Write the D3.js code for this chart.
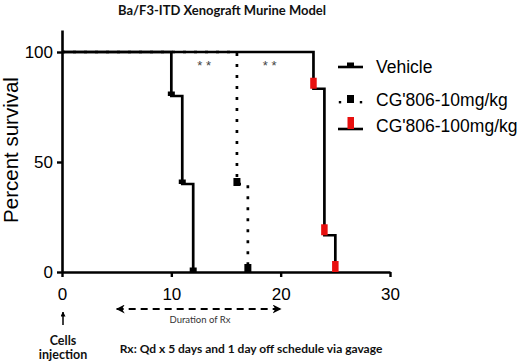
<!DOCTYPE html>
<html><head><meta charset="utf-8">
<script src="https://cdn.jsdelivr.net/npm/d3@7"></script>
<style>html,body{margin:0;padding:0;background:#fff;}svg{display:block;}</style>
</head><body>
<script>
// ---- data ----
const seriesNames = ["Vehicle", "CG'806-10mg/kg", "CG'806-100mg/kg"];
const vehicleDays = [0, 10, 11, 12];
const vehicleSurv = [100, 80, 40, 0];
const lowDoseDays = [0, 16, 17];
const lowDoseSurv = [100, 40, 0];
const highDoseDays = [0, 23, 24, 25];
const highDoseSurv = [100, 83.3, 16.7, 0];
const xTicks = [0, 10, 20, 30];
const yTicks = [0, 50, 100];
const sigDays = [13, 19];
const rxStart = 5, rxEnd = 20;

const W = 520, H = 364;
const svg = d3.select("body").append("svg").attr("width", W).attr("height", H);
const x = d3.scaleLinear().domain([0, 30]).range([62, 390]);
const y = d3.scaleLinear().domain([0, 110]).range([272, 30]);
const font = "'Liberation Sans', Arial, sans-serif";
const cal = "Lato, 'Open Sans', sans-serif";

// title
svg.append("text").attr("x", 222).attr("y", 15).attr("text-anchor", "middle")
  .attr("font-family", cal).attr("font-weight", "bold").attr("font-size", 13)
  .attr("fill", "#111").text("Ba/F3-ITD Xenograft Murine Model");

// axes
const yAxis = svg.append("g").attr("transform", `translate(${x(0)},0)`)
  .call(d3.axisLeft(y).tickValues(yTicks).tickSize(5).tickPadding(4).tickSizeOuter(0));
const xAxis = svg.append("g").attr("transform", `translate(0,${y(0)})`)
  .call(d3.axisBottom(x).tickValues(xTicks).tickSize(5).tickPadding(11).tickSizeOuter(0));
[xAxis, yAxis].forEach(g => {
  g.select(".domain").attr("stroke", "#000").attr("stroke-width", 2.6);
  g.selectAll(".tick line").attr("stroke", "#000").attr("stroke-width", 2.4);
  g.selectAll(".tick text").attr("font-family", font).attr("font-size", 17).attr("fill", "#000");
});

svg.append("text").attr("transform", `translate(18,150) rotate(-90)`)
  .attr("text-anchor", "middle").attr("font-family", font).attr("font-size", 20.5)
  .attr("fill", "#000").text("Percent survival");

// step curves
const line = d3.line().x(d => x(d[0])).y(d => y(d[1])).curve(d3.curveStepAfter);
function pts(days, surv) { return days.map((d, i) => [d, surv[i]]); }

const series = [
  {days: highDoseDays, surv: highDoseSurv, dash: null, color: "#e8100f", mw: 6.5, mh: 11},
  {days: vehicleDays, surv: vehicleSurv, dash: null, color: "#000", mw: 7, mh: 4.5},
  {days: lowDoseDays, surv: lowDoseSurv, dash: "3 8", color: "#000", mw: 7, mh: 8},
];
series.forEach(s => {
  svg.append("path").attr("d", line(pts(s.days, s.surv)))
    .attr("fill", "none").attr("stroke", "#000").attr("stroke-width", 2.7)
    .attr("stroke-dasharray", s.dash);
});
series.forEach(s => {
  const p = pts(s.days, s.surv).slice(1);
  svg.selectAll(null).data(p).enter().append("rect")
    .attr("x", d => x(d[0]) - s.mw / 2)
    .attr("y", d => y(d[1]) - s.mh + (s.mh > 7 && s.color === "#000" && d[1] > 0 ? 2 : 0))
    .attr("width", s.mw).attr("height", s.mh).attr("fill", s.color);
});

// significance
svg.selectAll(null).data(sigDays).enter().append("text")
  .attr("x", d => x(d)).attr("y", 70).attr("text-anchor", "middle")
  .attr("font-family", font).attr("font-size", 13).attr("fill", "#444").text("* *");

// legend
const legY = [67, 100, 126];
const lg = svg.append("g");
// Vehicle
lg.append("line").attr("x1", 338).attr("x2", 363).attr("y1", legY[0]).attr("y2", legY[0])
  .attr("stroke", "#000").attr("stroke-width", 2.6);
lg.append("rect").attr("x", 347).attr("y", legY[0] - 4.5).attr("width", 7).attr("height", 4.5).attr("fill", "#000");
// 10 mg
[340, 361].forEach(cx => lg.append("rect").attr("x", cx - 1.2).attr("y", legY[1] + 1).attr("width", 2.4).attr("height", 2.4).attr("fill", "#000"));
lg.append("rect").attr("x", 347).attr("y", legY[1] - 5).attr("width", 7).attr("height", 8).attr("fill", "#000");
// 100 mg
lg.append("line").attr("x1", 338).attr("x2", 363).attr("y1", legY[2] + 3).attr("y2", legY[2] + 3)
  .attr("stroke", "#000").attr("stroke-width", 2.6);
lg.append("rect").attr("x", 347.5).attr("y", legY[2] - 9).attr("width", 6.5).attr("height", 12).attr("fill", "#e8100f");
seriesNames.forEach((n, i) => {
  lg.append("text").attr("x", 376).attr("y", legY[i]).attr("dy", "0.35em")
    .attr("font-family", font).attr("font-size", 17.5).attr("fill", "#000").text(n);
});

// annotations below
const defs = svg.append("defs");
defs.append("marker").attr("id", "ah").attr("viewBox", "0 0 10 10").attr("refX", 9).attr("refY", 5)
  .attr("markerWidth", 5).attr("markerHeight", 5).attr("orient", "auto-start-reverse").attr("markerUnits", "userSpaceOnUse")
  .append("path").attr("d", "M0,0 L10,5 L0,10 Z").attr("fill", "#000");
defs.append("marker").attr("id", "ah2").attr("viewBox", "0 0 10 10").attr("refX", 9).attr("refY", 5)
  .attr("markerWidth", 9).attr("markerHeight", 9).attr("orient", "auto-start-reverse").attr("markerUnits", "userSpaceOnUse")
  .append("path").attr("d", "M0,0 L10,5 L0,10 L3,5 Z").attr("fill", "#000");

svg.append("line").attr("x1", x(0) + 1).attr("x2", x(0) + 1).attr("y1", 325).attr("y2", 312)
  .attr("stroke", "#000").attr("stroke-width", 1.5).attr("marker-end", "url(#ah)");
svg.append("line").attr("x1", x(rxStart)).attr("x2", x(rxEnd)).attr("y1", 309).attr("y2", 309)
  .attr("stroke", "#000").attr("stroke-width", 2).attr("stroke-dasharray", "7 5")
  .attr("marker-start", "url(#ah2)").attr("marker-end", "url(#ah2)");
svg.append("text").attr("x", 200).attr("y", 323).attr("text-anchor", "middle")
  .attr("font-family", cal).attr("font-size", 9.5).attr("fill", "#333").text("Duration of Rx");
svg.append("text").attr("x", 63).attr("y", 345).attr("text-anchor", "middle")
  .attr("font-family", cal).attr("font-weight", "bold").attr("font-size", 12.5).attr("fill", "#111").text("Cells");
svg.append("text").attr("x", 63).attr("y", 359).attr("text-anchor", "middle")
  .attr("font-family", cal).attr("font-weight", "bold").attr("font-size", 12.5).attr("fill", "#111").text("injection");
svg.append("text").attr("x", 251).attr("y", 353).attr("text-anchor", "middle")
  .attr("font-family", cal).attr("font-weight", "bold").attr("font-size", 12).attr("fill", "#111")
  .text("Rx: Qd x 5 days and 1 day off schedule via gavage");
</script>
</body></html>
